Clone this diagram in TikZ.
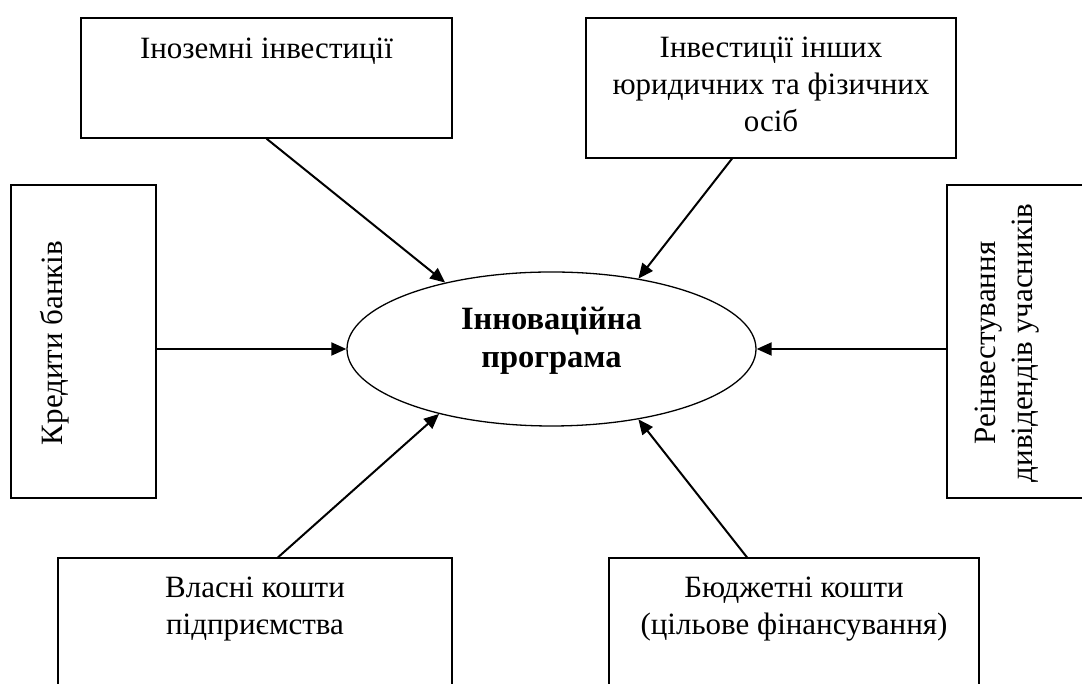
\documentclass[tikz,border=0pt]{standalone}
\usepackage{fontspec}
\setmainfont{Liberation Serif}
\usetikzlibrary{shapes.geometric,arrows.meta,calc}
\begin{document}
\begin{tikzpicture}[x=1pt,y=1pt,
  box/.style={draw, line width=1.3pt, rectangle, inner sep=0pt},
  lbl/.style={font=\fontsize{31}{37}\selectfont, align=center, inner sep=0pt},
  conn/.style={line width=2pt, -{Triangle[length=15pt,width=13pt]}}]
\useasboundingbox (0,0) rectangle (1082,684);
\clip (0,0) rectangle (1082,684);
% boxes
\node[box, minimum width=371pt, minimum height=120pt] (tl) at (266.5,606) {};
\node[box, minimum width=370pt, minimum height=140pt] (tr) at (771,596) {};
\node[box, minimum width=145pt, minimum height=313pt] (kb) at (83.5,342.5) {};
\node[box, minimum width=173pt, minimum height=313pt] (rd) at (1033.5,342.5) {};
\node[box, minimum width=394pt, minimum height=160pt] (bl) at (255,46) {};
\node[box, minimum width=370pt, minimum height=160pt] (br) at (794,46) {};
% texts (anchor=base is the baseline of the last line)
\node[lbl, anchor=base] (tlt) at ($(tl.north)+(0,-41)$) {Іноземні інвестиції};
\node[lbl, anchor=base] (trt) at ($(tr.north)+(0,-114)$) {Інвестиції інших\\юридичних та фізичних\\осіб};
\node[lbl, anchor=base, rotate=90] (kbt) at (62,341) {Кредити банків};
\node[lbl, anchor=base, rotate=90] (rdt) at (1032,341) {Реінвестування\\дивідендів учасників};
\node[lbl, anchor=base] (blt) at ($(bl.north)+(0,-77)$) {Власні кошти\\підприємства};
\node[lbl, anchor=base] (brt) at ($(br.north)+(0,-77)$) {Бюджетні кошти\\(цільове фінансування)};
% ellipse
\node[ellipse, draw, line width=1.3pt, minimum width=409pt, minimum height=154pt, inner sep=0pt] (prog) at (551.5,335) {};
\node[inner sep=0pt, align=center, font=\fontsize{32.5}{38}\selectfont\bfseries, anchor=base] (progt) at (551.5,316) {Інноваційна\\програма};
% connectors
\draw[conn] (tl.south) -- (prog.148);
\draw[conn] ([xshift=-39pt]tr.south) -- (prog.39);
\draw[conn] (kb.east |- prog.west) -- (prog.west);
\draw[conn] (rd.west |- prog.east) -- (prog.east);
\draw[conn] ([xshift=23pt]bl.north) -- (prog.210.5);
\draw[conn] ([xshift=-47pt]br.north) -- (prog.321.4);
\end{tikzpicture}
\end{document}
